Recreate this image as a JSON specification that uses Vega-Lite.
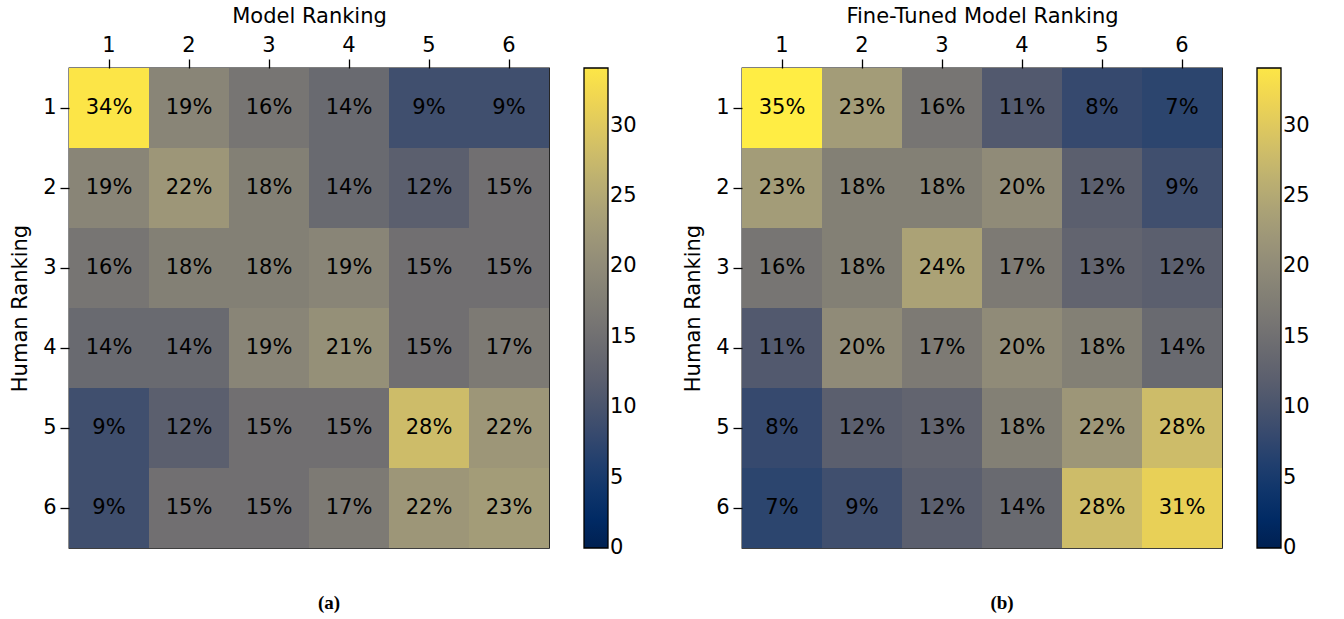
{
  "$schema": "https://vega.github.io/schema/vega-lite/v6.json",
  "padding": {"left": 8, "top": 4, "right": 0, "bottom": 0},
  "background": "white",
  "datasets": {
    "model": [
      {"human": 1, "rank": 1, "v": 34}, {"human": 1, "rank": 2, "v": 19}, {"human": 1, "rank": 3, "v": 16}, {"human": 1, "rank": 4, "v": 14}, {"human": 1, "rank": 5, "v": 9}, {"human": 1, "rank": 6, "v": 9},
      {"human": 2, "rank": 1, "v": 19}, {"human": 2, "rank": 2, "v": 22}, {"human": 2, "rank": 3, "v": 18}, {"human": 2, "rank": 4, "v": 14}, {"human": 2, "rank": 5, "v": 12}, {"human": 2, "rank": 6, "v": 15},
      {"human": 3, "rank": 1, "v": 16}, {"human": 3, "rank": 2, "v": 18}, {"human": 3, "rank": 3, "v": 18}, {"human": 3, "rank": 4, "v": 19}, {"human": 3, "rank": 5, "v": 15}, {"human": 3, "rank": 6, "v": 15},
      {"human": 4, "rank": 1, "v": 14}, {"human": 4, "rank": 2, "v": 14}, {"human": 4, "rank": 3, "v": 19}, {"human": 4, "rank": 4, "v": 21}, {"human": 4, "rank": 5, "v": 15}, {"human": 4, "rank": 6, "v": 17},
      {"human": 5, "rank": 1, "v": 9}, {"human": 5, "rank": 2, "v": 12}, {"human": 5, "rank": 3, "v": 15}, {"human": 5, "rank": 4, "v": 15}, {"human": 5, "rank": 5, "v": 28}, {"human": 5, "rank": 6, "v": 22},
      {"human": 6, "rank": 1, "v": 9}, {"human": 6, "rank": 2, "v": 15}, {"human": 6, "rank": 3, "v": 15}, {"human": 6, "rank": 4, "v": 17}, {"human": 6, "rank": 5, "v": 22}, {"human": 6, "rank": 6, "v": 23}
    ],
    "finetuned": [
      {"human": 1, "rank": 1, "v": 35}, {"human": 1, "rank": 2, "v": 23}, {"human": 1, "rank": 3, "v": 16}, {"human": 1, "rank": 4, "v": 11}, {"human": 1, "rank": 5, "v": 8}, {"human": 1, "rank": 6, "v": 7},
      {"human": 2, "rank": 1, "v": 23}, {"human": 2, "rank": 2, "v": 18}, {"human": 2, "rank": 3, "v": 18}, {"human": 2, "rank": 4, "v": 20}, {"human": 2, "rank": 5, "v": 12}, {"human": 2, "rank": 6, "v": 9},
      {"human": 3, "rank": 1, "v": 16}, {"human": 3, "rank": 2, "v": 18}, {"human": 3, "rank": 3, "v": 24}, {"human": 3, "rank": 4, "v": 17}, {"human": 3, "rank": 5, "v": 13}, {"human": 3, "rank": 6, "v": 12},
      {"human": 4, "rank": 1, "v": 11}, {"human": 4, "rank": 2, "v": 20}, {"human": 4, "rank": 3, "v": 17}, {"human": 4, "rank": 4, "v": 20}, {"human": 4, "rank": 5, "v": 18}, {"human": 4, "rank": 6, "v": 14},
      {"human": 5, "rank": 1, "v": 8}, {"human": 5, "rank": 2, "v": 12}, {"human": 5, "rank": 3, "v": 13}, {"human": 5, "rank": 4, "v": 18}, {"human": 5, "rank": 5, "v": 22}, {"human": 5, "rank": 6, "v": 28},
      {"human": 6, "rank": 1, "v": 7}, {"human": 6, "rank": 2, "v": 9}, {"human": 6, "rank": 3, "v": 12}, {"human": 6, "rank": 4, "v": 14}, {"human": 6, "rank": 5, "v": 28}, {"human": 6, "rank": 6, "v": 31}
    ]
  },
  "config": {
    "font": "DejaVu Sans",
    "view": {"stroke": "black", "strokeWidth": 1.3},
    "axis": {
      "labelFont": "DejaVu Sans", "labelFontSize": 21, "labelColor": "black",
      "titleFont": "DejaVu Sans", "titleFontSize": 21, "titleFontWeight": "normal", "titleColor": "black",
      "tickColor": "black", "tickSize": 9, "tickWidth": 1.3, "domain": false, "grid": false,
      "labelPadding": 4, "labelAngle": 0
    },
    "legend": {
      "labelFont": "DejaVu Sans", "labelFontSize": 21, "labelColor": "black",
      "gradientLength": 480, "gradientThickness": 24,
      "gradientStrokeColor": "black", "gradientStrokeWidth": 1.3,
      "offset": 35, "labelOffset": 15, "padding": 0
    },
    "title": {"font": "Liberation Serif", "fontSize": 19, "fontWeight": "bold", "color": "black"}
  },
  "hconcat": [
    {
      "width": 480, "height": 480,
      "data": {"name": "model"},
      "title": {"text": "(a)", "orient": "bottom", "anchor": "middle", "dx": 20, "offset": 36},
      "encoding": {
        "x": {"field": "rank", "type": "ordinal", "scale": {"paddingInner": 0, "paddingOuter": 0}, "axis": {"orient": "top", "title": "Model Ranking", "titlePadding": 8}},
        "y": {"field": "human", "type": "ordinal", "scale": {"paddingInner": 0, "paddingOuter": 0}, "axis": {"orient": "left", "title": "Human Ranking", "titlePadding": 12}}
      },
      "layer": [
        {
          "mark": {"type": "rect"},
          "encoding": {
            "color": {"field": "v", "type": "quantitative", "scale": {"scheme": "cividis", "domain": [0, 34.1]},
              "legend": {"title": null, "values": [0, 5, 10, 15, 20, 25, 30], "encode": {"labels": {"update": {"baseline": {"value": "middle"}}}}}}
          }
        },
        {
          "mark": {"type": "text", "font": "DejaVu Sans", "fontSize": 21, "color": "black", "text": {"expr": "datum.v + '%'"}},
          "encoding": {}
        }
      ]
    },
    {
      "width": 480, "height": 480,
      "data": {"name": "finetuned"},
      "title": {"text": "(b)", "orient": "bottom", "anchor": "middle", "dx": 20, "offset": 36},
      "encoding": {
        "x": {"field": "rank", "type": "ordinal", "scale": {"paddingInner": 0, "paddingOuter": 0}, "axis": {"orient": "top", "title": "Fine-Tuned Model Ranking", "titlePadding": 8}},
        "y": {"field": "human", "type": "ordinal", "scale": {"paddingInner": 0, "paddingOuter": 0}, "axis": {"orient": "left", "title": "Human Ranking", "titlePadding": 12}}
      },
      "layer": [
        {
          "mark": {"type": "rect"},
          "encoding": {
            "color": {"field": "v", "type": "quantitative", "scale": {"scheme": "cividis", "domain": [0, 34.1]},
              "legend": {"title": null, "values": [0, 5, 10, 15, 20, 25, 30], "encode": {"labels": {"update": {"baseline": {"value": "middle"}}}}}}
          }
        },
        {
          "mark": {"type": "text", "font": "DejaVu Sans", "fontSize": 21, "color": "black", "text": {"expr": "datum.v + '%'"}},
          "encoding": {}
        }
      ]
    }
  ],
  "spacing": 43,
  "resolve": {"scale": {"color": "independent"}}
}
